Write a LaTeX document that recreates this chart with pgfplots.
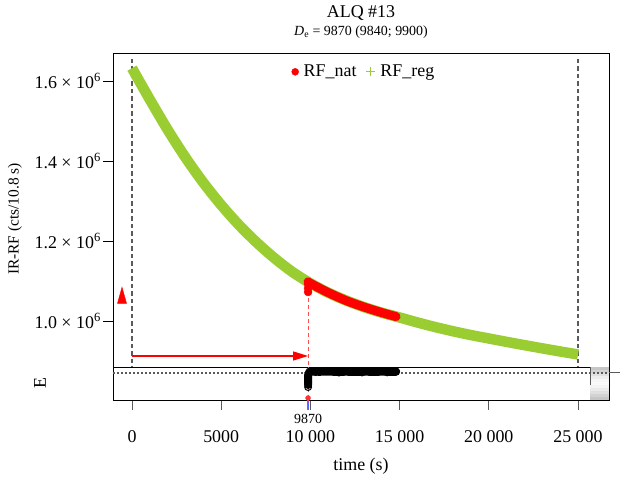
\documentclass[border=0pt]{standalone}
\usepackage{fontspec}
\setmainfont{Liberation Serif}
\usepackage{pgfplots}
\pgfplotsset{compat=1.18}
\usetikzlibrary{arrows.meta}
\definecolor{rfgreen}{RGB}{154,205,50}
\definecolor{axgray}{RGB}{90,90,90}
\newcommand{\fbig}{\fontsize{18}{20}\selectfont}
\newcommand{\fmid}{\fontsize{15.5}{17}\selectfont}
\newcommand{\fsmall}{\fontsize{14}{16}\selectfont}
\begin{document}
\begin{tikzpicture}[x=1bp,y=1bp]
\useasboundingbox (0,0) rectangle (620,477);
% ---------------- main panel ----------------
\begin{axis}[
  at={(113bp,110bp)}, anchor=south west,
  scale only axis, width=496bp, height=314bp,
  xmin=-1065, xmax=26738, ymin=0.885e6, ymax=1.67e6,
  xtick=\empty,
  ytick={1.0e6,1.2e6,1.4e6,1.6e6},
  yticklabels={1.0 × 10\textsuperscript{6},1.2 × 10\textsuperscript{6},1.4 × 10\textsuperscript{6},1.6 × 10\textsuperscript{6}},
  scaled y ticks=false,
  ytick pos=left, tick align=outside, major tick length=10bp,
  yticklabel style={font=\fbig, inner xsep=2bp},
  tick style={black, line width=0.8bp},
  axis line style={black, line width=0.8bp},
  clip=false,
  legend style={at={(rel axis cs:0.506,0.94)}, anchor=center, draw=none, fill=none,
    font=\fbig, legend columns=2,
    /tikz/every odd column/.append style={column sep=3bp},
    /tikz/every even column/.append style={column sep=8bp}},
  legend cell align=left,
]
% legend entries
\addlegendimage{only marks, mark=*, mark size=3.5bp, red}
\addlegendentry{RF\_nat}
\addlegendimage{only marks, mark=+, mark size=4.5bp, rfgreen, line width=1bp}
\addlegendentry{RF\_reg}
% vertical dashed lines at start and end of regenerated signal
\addplot[axgray, line width=1.1bp, dash pattern=on 4.5bp off 3bp, forget plot] coordinates {(0,1.655e6) (0,0.885e6)};
\addplot[axgray, line width=1.1bp, dash pattern=on 4.5bp off 3bp, forget plot] coordinates {(25000,1.655e6) (25000,0.885e6)};
% RF_reg band
\addplot[rfgreen, line width=10.5bp, smooth, tension=0.5, forget plot] coordinates {
(0,1.632e6) (1000,1.5536e6) (2000,1.4781e6) (3000,1.4085e6) (4000,1.3458e6) (5000,1.2899e6)
(6000,1.2399e6) (7000,1.1958e6) (8000,1.1566e6) (9000,1.1223e6) (10000,1.0943e6)
(11000,1.0708e6) (12000,1.0513e6) (13000,1.0348e6) (14000,1.0208e6) (15000,1.0088e6)
(16000,0.9963e6) (17000,0.9848e6) (18000,0.9743e6) (19000,0.9648e6) (20000,0.9563e6)
(21000,0.9478e6) (22000,0.9396e6) (23000,0.9316e6) (24000,0.9238e6) (25000,0.9163e6)};
% red dashed line at De
\addplot[red!70, line width=1bp, dash pattern=on 4bp off 3bp, forget plot] coordinates {(9870,1.075e6) (9870,0.885e6)};
% RF_nat band
\addplot[red, line width=9bp, line cap=round, smooth, forget plot] coordinates {
(9870,1.098e6) (10000,1.094e6) (11000,1.071e6) (12000,1.051e6) (13000,1.035e6) (14000,1.021e6) (14800,1.011e6)};
\addplot[only marks, mark=*, mark size=4bp, red, forget plot] coordinates {(9870,1.0725e6) (9870,1.082e6) (9870,1.092e6)};
% arrow
\draw[red, line width=1.1bp, -{Triangle[length=15bp,width=9bp]}] (axis cs:0,0.9125e6) -- (axis cs:9870,0.9125e6);
% red triangle marker
\addplot[only marks, mark=triangle*, mark size=6bp, red, mark options={xscale=0.87, yscale=1.8}, forget plot] coordinates {(-560,1.0575e6)};
\end{axis}
% ---------------- residual panel ----------------
\begin{axis}[
  at={(113bp,77bp)}, anchor=south west,
  scale only axis, width=496bp, height=33bp,
  xmin=-1065, xmax=26738, ymin=-27, ymax=6,
  ytick=\empty,
  xtick={0,5000,10000,15000,20000,25000},
  xticklabels={0,5000,10 000,15 000,20 000,25 000},
  scaled x ticks=false,
  xtick pos=left, tick align=outside, major tick length=10bp,
  xticklabel style={font=\fbig, yshift=-17bp},
  tick style={axgray, line width=1bp},
  axis line style={black, line width=0.8bp},
  extra x ticks={9870}, extra x tick labels={9870},
  extra x tick style={tick style={blue!60, line width=1.5bp}, xticklabel style={font=\fsmall, yshift=16bp}},
  clip=false,
]
% gray residual density box (gradient drawn as bands)
\fill[gray!45] (axis cs:25673,6) rectangle (axis cs:26738,3);
\fill[gray!35] (axis cs:25673,3) rectangle (axis cs:26738,0);
\fill[gray!24] (axis cs:25673,0) rectangle (axis cs:26738,-3);
\fill[gray!14] (axis cs:25673,-3) rectangle (axis cs:26738,-6);
\fill[gray!7] (axis cs:25673,-6) rectangle (axis cs:26738,-9);
\fill[gray!5] (axis cs:25673,-9) rectangle (axis cs:26738,-12);
\fill[gray!9] (axis cs:25673,-12) rectangle (axis cs:26738,-15);
\fill[gray!16] (axis cs:25673,-15) rectangle (axis cs:26738,-18);
\fill[gray!25] (axis cs:25673,-18) rectangle (axis cs:26738,-21);
\fill[gray!35] (axis cs:25673,-21) rectangle (axis cs:26738,-24);
\fill[gray!45] (axis cs:25673,-24) rectangle (axis cs:26738,-27);
\addplot[axgray, line width=1bp] coordinates {(25673,6) (25673,-12)};
% zero line
\addplot[axgray, line width=1.2bp, dash pattern=on 1.5bp off 2.5bp] coordinates {(-1065,0) (26738,0)};
\addplot[axgray, line width=1bp] coordinates {(26738,0) (27350,0)};
% red dashed at De
\addplot[red!70, line width=1bp, dash pattern=on 4bp off 3bp] coordinates {(9870,6) (9870,-27)};
\addplot[only marks, mark=*, mark size=2.5bp, red!80] coordinates {(9870,-25)};
% residuals
\addplot[black, line width=8bp, line cap=round] coordinates {
(9870,-12) (9870,-6) (9880,-1) (9950,1) (10100,1.5) (10500,1.2) (11000,1.5) (11500,1) (12000,1.3)
(12500,1) (13000,1.4) (13500,1.1) (14000,1.3) (14500,1.2) (14800,1.2)};
\addplot[only marks, mark=o, mark size=3.5bp, black, line width=1bp] coordinates {
(9870,-14) (9870,-9) (9870,-4) (10300,1) (10900,2) (11600,0.5) (12200,1.8) (12900,0.6) (13600,1.9) (14300,0.7) (14800,1.5)};
\end{axis}
% ---------------- texts ----------------
\node[font=\fbig] at (361,464) {ALQ \#13};
\node[font=\fsmall] at (361,445) {\textit{D}\textsubscript{e} = 9870 (9840; 9900)};
\node[font=\fbig] at (361,11) {time (s)};
\node[font=\fmid, rotate=90] at (15,258) {IR-RF (cts/10.8 s)};
\node[font=\fbig, rotate=90] at (40,94) {E};
\end{tikzpicture}
\end{document}
